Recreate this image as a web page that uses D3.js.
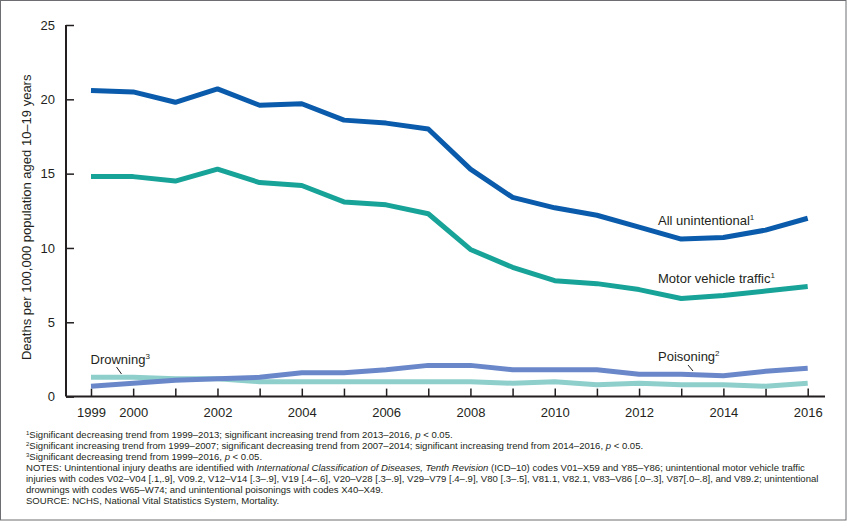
<!DOCTYPE html>
<meta charset="utf-8">
<script src="https://d3js.org/d3.v7.min.js"></script>
<style>
  body { margin: 0; background: #fff; }
  text { font-family: "Liberation Sans", Arial, sans-serif; fill: #231f20; }
</style>
<div id="my_dataviz"></div>
<script>

// data (deaths per 100,000, ages 10-19)
var years = [1999, 2000, 2001, 2002, 2003, 2004, 2005, 2006, 2007, 2008,
             2009, 2010, 2011, 2012, 2013, 2014, 2015, 2016];
var allUnintentional = [20.6, 20.5, 19.8, 20.7, 19.6, 19.7, 18.6, 18.4, 18.0, 15.3,
                        13.4, 12.7, 12.2, 11.4, 10.6, 10.7, 11.2, 12.0];
var motorVehicle = [14.8, 14.8, 14.5, 15.3, 14.4, 14.2, 13.1, 12.9, 12.3, 9.9,
                    8.7, 7.8, 7.6, 7.2, 6.6, 6.8, 7.1, 7.4];
var poisoning = [0.7, 0.9, 1.1, 1.2, 1.3, 1.6, 1.6, 1.8, 2.1, 2.1,
                 1.8, 1.8, 1.8, 1.5, 1.5, 1.4, 1.7, 1.9];
var drowning = [1.3, 1.3, 1.2, 1.2, 1.0, 1.0, 1.0, 1.0, 1.0, 1.0,
                0.9, 1.0, 0.8, 0.9, 0.8, 0.8, 0.7, 0.9];
var xTickLabels = [1999, 2000, 2002, 2004, 2006, 2008, 2010, 2012, 2014, 2016];
var yTicks = [0, 5, 10, 15, 20, 25];

var series = [
  { name: "Drowning", values: drowning, color: "#8ecfcb" },
  { name: "Poisoning", values: poisoning, color: "#6a88c9" },
  { name: "Motor vehicle traffic", values: motorVehicle, color: "#17a398" },
  { name: "All unintentional", values: allUnintentional, color: "#0a5bab" }
];

// set the dimensions and margins of the graph
var margin = {top: 25, left: 66},
    width = 759,
    height = 371.6;

var svg = d3.select("#my_dataviz")
  .append("svg")
    .attr("width", 850)
    .attr("height", 524);

// outer frame
svg.append("rect")
  .attr("x", 0.5).attr("y", 0.5)
  .attr("width", 845.5).attr("height", 519.5)
  .attr("fill", "none").attr("stroke", "#6d6e71");

var g = svg.append("g")
  .attr("transform", "translate(" + margin.left + "," + margin.top + ")");

var x = d3.scaleLinear().domain([1999, 2016]).range([25, 741.7]);
var y = d3.scaleLinear().domain([0, 25]).range([height, 0]);

// axes, ticks pointing inward
var xAxis = g.append("g")
  .attr("transform", "translate(0," + height + ")")
  .call(d3.axisBottom(x).tickValues(years).tickSizeInner(-8).tickSizeOuter(0).tickPadding(11)
    .tickFormat(function(d) { return xTickLabels.indexOf(d) >= 0 ? d : ""; }));
xAxis.select(".domain").remove();

var yAxis = g.append("g")
  .call(d3.axisLeft(y).tickValues(yTicks).tickSizeInner(-8).tickSizeOuter(0).tickPadding(11));
yAxis.select(".domain").remove();

[xAxis, yAxis].forEach(function(a) {
  a.selectAll("line").attr("stroke", "#231f20").attr("stroke-width", 1.5);
  a.selectAll("text").style("font-size", "13px").style("font-family", "'Liberation Sans', Arial, sans-serif").attr("fill", "#231f20");
});

g.append("line")
  .attr("x1", 0).attr("x2", width).attr("y1", y(0)).attr("y2", y(0))
  .attr("stroke", "#231f20").attr("stroke-width", 2);
g.append("line")
  .attr("x1", 0).attr("x2", 0).attr("y1", y(0)).attr("y2", y(25))
  .attr("stroke", "#231f20").attr("stroke-width", 2);

// y axis title
g.append("text")
  .attr("transform", "rotate(-90)")
  .attr("x", -(y(12.5) + 6.5))
  .attr("y", -35)
  .attr("text-anchor", "middle")
  .style("font-size", "13px")
  .text("Deaths per 100,000 population aged 10\u201319 years");

// lines
var line = d3.line()
  .x(function(d, i) { return x(years[i]); })
  .y(function(d) { return y(d); });

g.selectAll(".series")
  .data(series)
  .enter()
  .append("path")
    .attr("class", "series")
    .attr("d", function(d) { return line(d.values); })
    .attr("fill", "none")
    .attr("stroke", function(d) { return d.color; })
    .attr("stroke-width", 5)
    .attr("stroke-linejoin", "round");

// line labels
function label(px, py, txt, sup) {
  var t = g.append("text").attr("x", px).attr("y", py).style("font-size", "13px");
  t.append("tspan").text(txt);
  t.append("tspan").attr("dy", -5).style("font-size", "8px").text(sup);
}
label(592, 200, "All unintentional", "1");
label(592, 258, "Motor vehicle traffic", "1");
label(592, 336, "Poisoning", "2");
label(24.5, 339, "Drowning", "3");

// leader lines
g.append("line").attr("x1", 622).attr("y1", 340).attr("x2", 627).attr("y2", 346)
  .attr("stroke", "#231f20").attr("stroke-width", 1);
g.append("line").attr("x1", 50.5).attr("y1", 342).attr("x2", 55.5).attr("y2", 349)
  .attr("stroke", "#231f20").attr("stroke-width", 1);

// footnotes
var notes = svg.append("g").style("font-size", "9.55px");
var noteLines = [
  [["sup", "1"], ["", "Significant decreasing trend from 1999\u20132013; significant increasing trend from 2013\u20132016, "], ["i", "p"], ["", " < 0.05."]],
  [["sup", "2"], ["", "Significant increasing trend from 1999\u20132007; significant decreasing trend from 2007\u20132014; significant increasing trend from 2014\u20132016, "], ["i", "p"], ["", " < 0.05."]],
  [["sup", "3"], ["", "Significant decreasing trend from 1999\u20132016, "], ["i", "p"], ["", " < 0.05."]],
  [["", "NOTES: Unintentional injury deaths are identified with "], ["i", "International Classification of Diseases, Tenth Revision"], ["", " (ICD\u201310) codes V01\u2013X59 and Y85\u2013Y86; unintentional motor vehicle traffic"]],
  [["", "injuries with codes V02\u2013V04 [.1,.9], V09.2, V12\u2013V14 [.3\u2013.9], V19 [.4\u2013.6], V20\u2013V28 [.3\u2013.9], V29\u2013V79 [.4\u2013.9], V80 [.3\u2013.5], V81.1, V82.1, V83\u2013V86 [.0\u2013.3], V87[.0\u2013.8], and V89.2; unintentional"]],
  [["", "drownings with codes W65\u2013W74; and unintentional poisonings with codes X40\u2013X49."]],
  [["", "SOURCE: NCHS, National Vital Statistics System, Mortality."]]
];
noteLines.forEach(function(parts, i) {
  var t = notes.append("text").attr("x", 26).attr("y", 437.5 + i * 11.1);
  parts.forEach(function(p, j) {
    var s = t.append("tspan").text(p[1]);
    if (p[0] === "i") s.style("font-style", "italic");
    if (p[0] === "sup") s.style("font-size", "6px").attr("dy", -3);
    if (j === 1 && parts[0][0] === "sup") s.attr("dy", 3);
  });
});

</script>
